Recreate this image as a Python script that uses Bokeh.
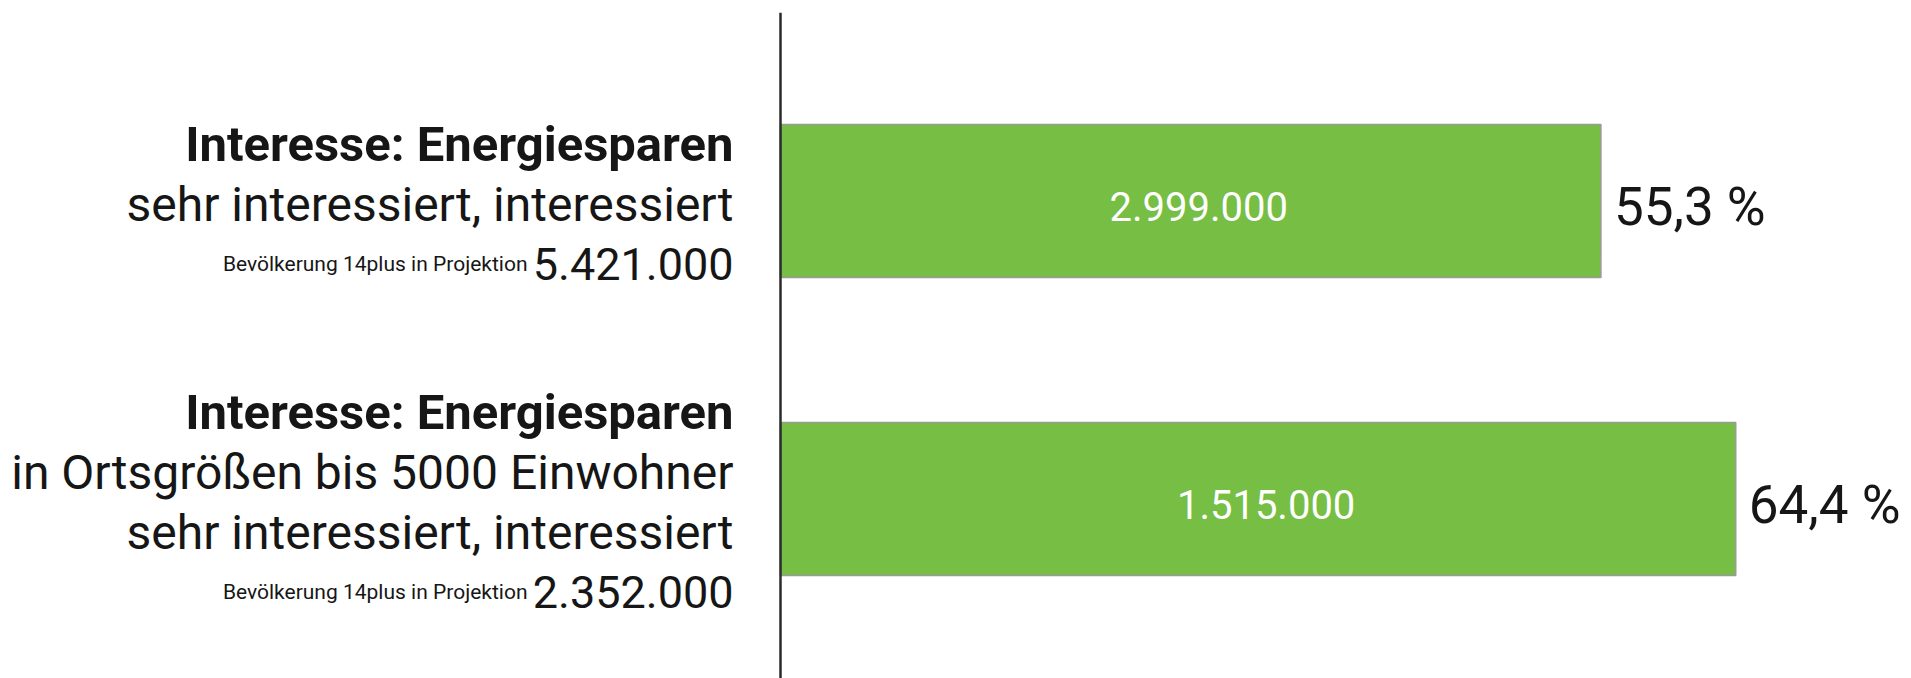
from bokeh.plotting import figure
from bokeh.models import ColumnDataSource, Range1d, Span
from bokeh.core.properties import value
from bokeh.embed import file_html
from bokeh.resources import INLINE

# ---- data ----
titles = ["Interesse: Energiesparen", "Interesse: Energiesparen"]
subtitle_lines = [
    ["sehr interessiert, interessiert"],
    ["in Ortsgrößen bis 5000 Einwohner", "sehr interessiert, interessiert"],
]
base_label = "Bevölkerung 14plus in Projektion"
population = [5421000, 2352000]
interested = [2999000, 1515000]


def de_int(n):
    return f"{n:,}".replace(",", ".")


def de_pct(v):
    return f"{v:.1f}".replace(".", ",") + " %"


percent = [i / p * 100 for i, p in zip(interested, population)]
ypos = list(range(len(titles)))

# ---- layout constants ----
W, H = 1911, 678
TOP = 12
FRAME_H = H - TOP
AXIS_PX = 780          # pixel of x = 0
PX_PER_PCT = 14.83
ROW_PX = 298
FIRST_ROW_PX = 188.5   # centre of first bar within frame
BAR_PX = 153
LINE_GAP = 60
SHIFT = -17            # baseline correction
GREEN = "#76BE44"
TXT = "#161616"
FONT = value("Roboto")

x_start = -AXIS_PX / PX_PER_PCT
x_end = (W - AXIS_PX) / PX_PER_PCT
y_top = -FIRST_ROW_PX / ROW_PX
y_bottom = y_top + FRAME_H / ROW_PX

p = figure(width=W, height=H, output_backend="svg", toolbar_location=None,
           x_range=Range1d(x_start, x_end), y_range=Range1d(y_bottom, y_top),
           x_axis_location=None, y_axis_location=None,
           min_border_top=TOP, min_border_left=0, min_border_right=0, min_border_bottom=0)
p.grid.visible = False
p.outline_line_color = None
p.background_fill_color = "white"
p.border_fill_color = "white"

# bars
bars = ColumnDataSource(dict(y=ypos, pct=percent,
                             mid=[v / 2 for v in percent],
                             val=[de_int(v) for v in interested],
                             pct_txt=[de_pct(v) for v in percent]))
p.hbar(y="y", left=0, right="pct", height=BAR_PX / ROW_PX, source=bars,
       fill_color=GREEN, line_color="#9a9a9a", line_width=1.5)

p.text(x="mid", y="y", text="val", source=bars, text_font=FONT,
       text_font_size="40px", text_color="white", text_align="center",
       text_baseline="alphabetic", x_offset=8, y_offset=22 + SHIFT)
p.text(x="pct", y="y", text="pct_txt", source=bars, text_font=FONT,
       text_font_size="53px", text_color=TXT, text_align="left",
       text_baseline="alphabetic", x_offset=13, y_offset=23 + SHIFT)

# left labels
t_y, t_off = [], []
s_y, s_txt, s_off = [], [], []
n_y, n_txt, n_off = [], [], []
for i, subs in enumerate(subtitle_lines):
    n = 2 + len(subs)
    offs = [20 + SHIFT + (k - (n - 1) / 2) * LINE_GAP for k in range(n)]
    t_y.append(ypos[i]); t_off.append(offs[0])
    for k, s in enumerate(subs):
        s_y.append(ypos[i]); s_txt.append(s); s_off.append(offs[1 + k])
    n_y.append(ypos[i]); n_txt.append(de_int(population[i])); n_off.append(offs[-1])

src_t = ColumnDataSource(dict(x=[0] * len(t_y), y=t_y, text=titles, off=t_off))
src_s = ColumnDataSource(dict(x=[0] * len(s_y), y=s_y, text=s_txt, off=s_off))
src_n = ColumnDataSource(dict(x=[0] * len(n_y), y=n_y, text=n_txt, off=n_off,
                              base=[base_label] * len(n_y)))

p.text(x="x", y="y", text="text", source=src_t, text_font=FONT, text_font_style="bold",
       text_font_size="49px", text_color=TXT, text_align="right",
       text_baseline="alphabetic", x_offset=-47, y_offset="off")
p.text(x="x", y="y", text="text", source=src_s, text_font=FONT,
       text_font_size="48px", text_color=TXT, text_align="right",
       text_baseline="alphabetic", x_offset=-47, y_offset="off")
p.text(x="x", y="y", text="text", source=src_n, text_font=FONT,
       text_font_size="45px", text_color=TXT, text_align="right",
       text_baseline="alphabetic", x_offset=-47, y_offset="off")
p.text(x="x", y="y", text="base", source=src_n, text_font=FONT,
       text_font_size="21px", text_color=TXT, text_align="right",
       text_baseline="alphabetic", x_offset=-253, y_offset="off")

# vertical axis line
p.add_layout(Span(location=0, dimension="height", line_color="#2b2b2b", line_width=2.5))

open("out.html", "w").write(file_html(p, INLINE))
